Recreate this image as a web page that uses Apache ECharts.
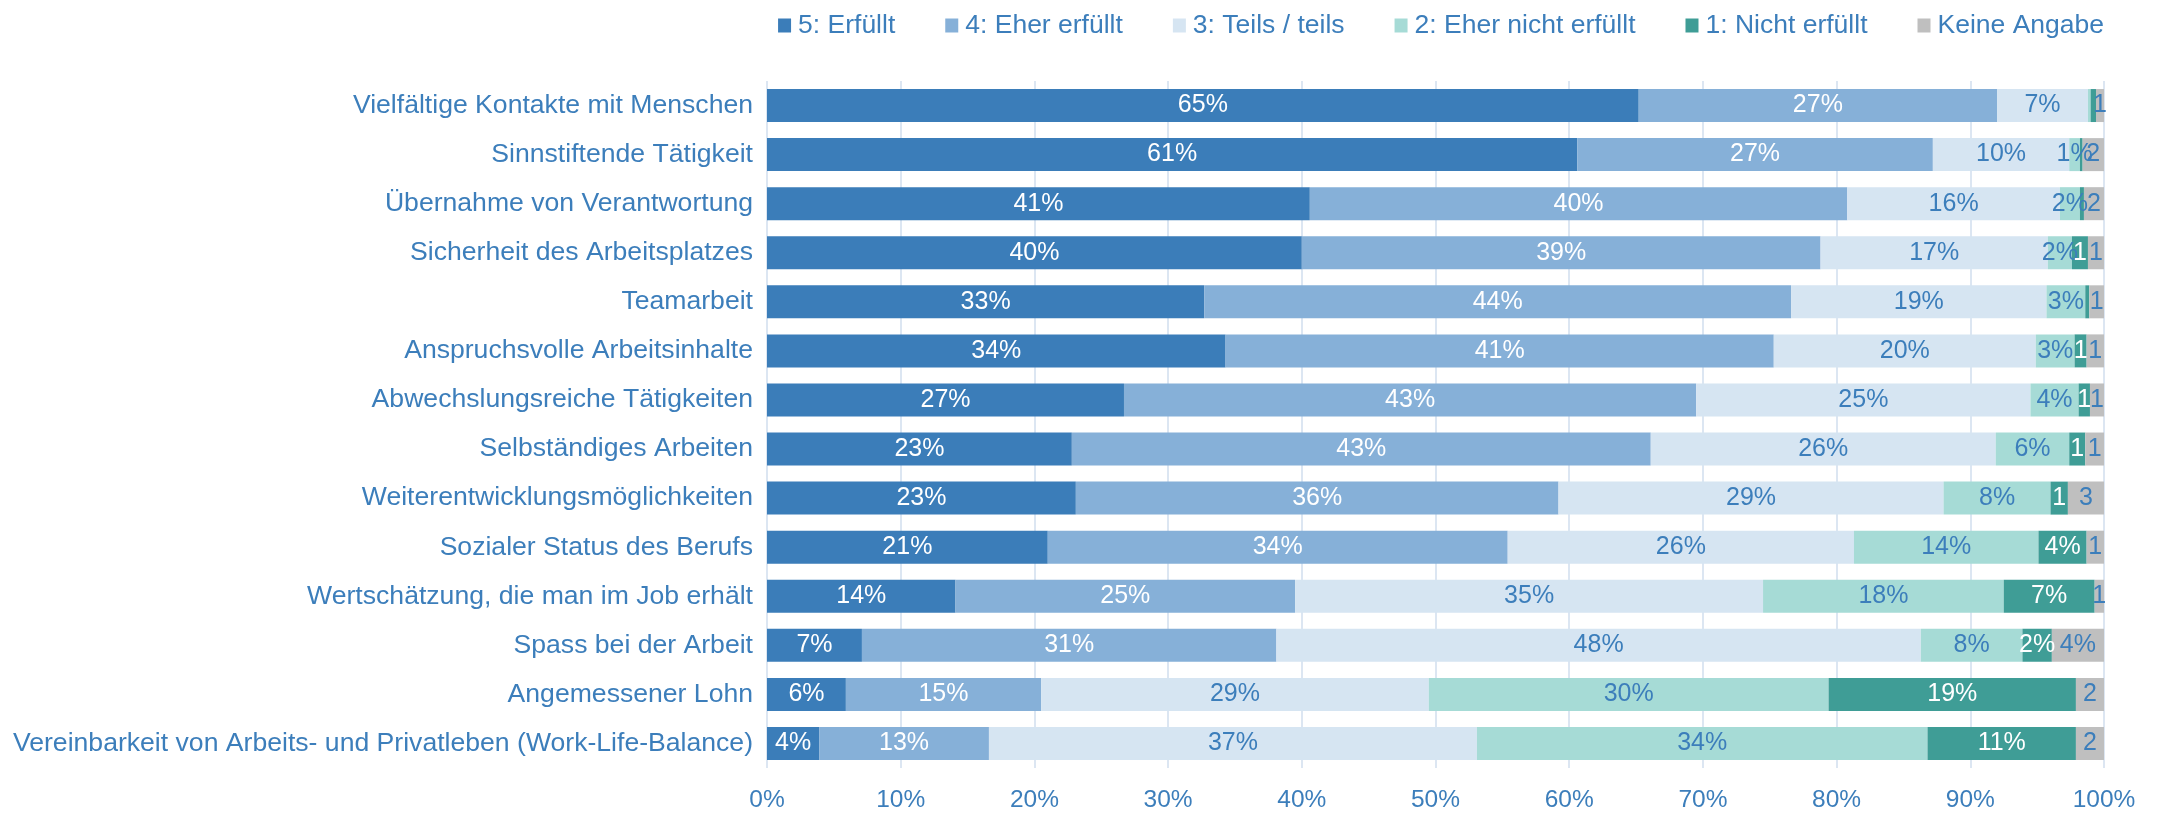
<!DOCTYPE html>
<html>
<head>
<meta charset="utf-8">
<title>Arbeitsaspekte</title>
<script src="https://cdn.jsdelivr.net/npm/echarts@6/dist/echarts.min.js"></script>
<style>
    html, body { margin: 0; padding: 0; background: #fff; }
    #chart { width: 2161px; height: 815px; }
</style>
</head>
<body>
<div id="chart"></div>
<script>
// Kategorien (von oben nach unten)
var categories = [
    'Vielfältige Kontakte mit Menschen',
    'Sinnstiftende Tätigkeit',
    'Übernahme von Verantwortung',
    'Sicherheit des Arbeitsplatzes',
    'Teamarbeit',
    'Anspruchsvolle Arbeitsinhalte',
    'Abwechslungsreiche Tätigkeiten',
    'Selbständiges Arbeiten',
    'Weiterentwicklungsmöglichkeiten',
    'Sozialer Status des Berufs',
    'Wertschätzung, die man im Job erhält',
    'Spass bei der Arbeit',
    'Angemessener Lohn',
    'Vereinbarkeit von Arbeits- und Privatleben (Work-Life-Balance)'
]

var seriesNames = ['5: Erfüllt', '4: Eher erfüllt', '3: Teils / teils', '2: Eher nicht erfüllt', '1: Nicht erfüllt', 'Keine Angabe']

// Anteile in %
var erfuellt      = [65.2, 60.6, 40.6, 40.0, 32.7, 34.3, 26.7, 22.8, 23.1, 21.0, 14.1, 7.1, 5.9, 3.9]
var eherErfuellt  = [26.8, 26.6, 40.2, 38.8, 43.9, 41.0, 42.8, 43.3, 36.1, 34.4, 25.4, 31.0, 14.6, 12.7]
var teilsTeils    = [6.8, 10.2, 15.9, 17.0, 19.1, 19.6, 25.0, 25.8, 28.8, 25.9, 35.0, 48.2, 29.0, 36.5]
var eherNicht     = [0.2, 0.8, 1.5, 1.8, 2.9, 2.9, 3.6, 5.5, 8.0, 13.8, 18.0, 7.6, 29.9, 33.7]
var nichtErfuellt = [0.4, 0.2, 0.3, 1.2, 0.3, 0.9, 0.85, 1.2, 1.3, 3.6, 6.8, 2.2, 18.5, 11.1]
var keineAngabe   = [0.6, 1.6, 1.5, 1.2, 1.1, 1.3, 1.05, 1.4, 2.7, 1.3, 0.7, 3.9, 2.1, 2.1]

var xTicks = [0, 10, 20, 30, 40, 50, 60, 70, 80, 90, 100]

var colors = ['#3B7DB9', '#86B0D8', '#D6E5F2', '#A6DBD6', '#3F9D96', '#BFBFBF']
var textBlue = '#3C7EBB'
var font = 'Liberation Sans, Arial, sans-serif'

// ab welchem Wert das %-Zeichen noch mitkommt (schmale Segmente nur Zahl)
var pctMin = [0, 0, 0, 0, 2, 3.5]
var labelColor = ['#fff', '#fff', textBlue, textBlue, '#fff', textBlue]

function makeSeries(idx, values) {
    return {
        name: seriesNames[idx],
        type: 'bar',
        stack: 'total',
        barWidth: 33,
        data: values,
        itemStyle: { color: colors[idx] },
        label: {
            show: true,
            position: 'inside',
            color: labelColor[idx],
            fontSize: 25,
            fontFamily: font,
            formatter: function (p) {
                var r = Math.round(p.value)
                if (r === 0) return ''
                return p.value >= pctMin[idx] ? r + '%' : String(r)
            }
        }
    }
}

var myChart = echarts.init(document.getElementById('chart'))

var option = {
    animation: false,
    color: colors,
    textStyle: { fontFamily: font },
    legend: {
        data: seriesNames,
        top: 7,
        right: 52,
        icon: 'rect',
        itemWidth: 13,
        itemHeight: 14,
        itemGap: 50,
        textStyle: {
            fontSize: 26.5,
            color: textBlue,
            fontFamily: font,
            padding: [0, 0, 0, 2]
        }
    },
    grid: {
        left: 767,
        right: 57,
        top: 81,
        bottom: 47
    },
    xAxis: {
        type: 'value',
        min: xTicks[0],
        max: xTicks[xTicks.length - 1],
        interval: 10,
        axisLine: { show: false },
        axisTick: { show: false },
        splitLine: { lineStyle: { color: '#DCE6F2', width: 2 } },
        axisLabel: {
            formatter: '{value}%',
            color: textBlue,
            fontSize: 24.5,
            fontFamily: font,
            margin: 20
        }
    },
    yAxis: {
        type: 'category',
        inverse: true,
        data: categories,
        axisLine: { show: false },
        axisTick: { show: false },
        axisLabel: {
            color: textBlue,
            fontSize: 26.6,
            fontFamily: font,
            margin: 14
        }
    },
    series: [
        makeSeries(0, erfuellt),
        makeSeries(1, eherErfuellt),
        makeSeries(2, teilsTeils),
        makeSeries(3, eherNicht),
        makeSeries(4, nichtErfuellt),
        makeSeries(5, keineAngabe)
    ]
}

myChart.setOption(option)
</script>
</body>
</html>
